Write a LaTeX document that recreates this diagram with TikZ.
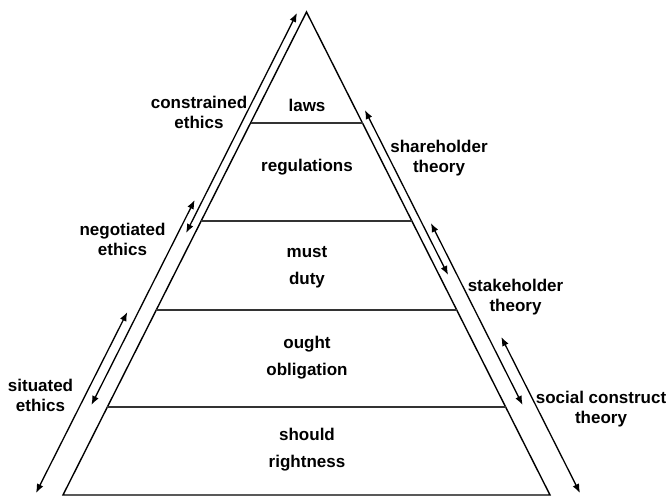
\documentclass[tikz,border=0pt]{standalone}
\usepackage{fontspec}
\setmainfont{Liberation Sans}
\usetikzlibrary{arrows.meta}
\begin{document}
\begin{tikzpicture}[x=1pt,y=-1pt,
  edge/.style={line width=1.4pt,black,line join=miter},
  tier/.style={line width=1.2pt,black!80},
  span/.style={line width=1.3pt,{Latex[length=9pt,width=7pt]}-{Latex[length=9pt,width=7pt]}},
  level/.style={font=\fontsize{17}{27}\selectfont\bfseries,align=center,inner sep=0pt,anchor=base},
  side/.style={font=\fontsize{17}{20}\selectfont\bfseries,align=center,inner sep=0pt,anchor=base}]
\useasboundingbox (0,0) rectangle (669,497);

% pyramid outline
\coordinate (apex) at (306.5,12);
\coordinate (bl) at (63,495);
\coordinate (br) at (550,495);
\draw[edge] (bl) -- (apex) -- (br) -- cycle;

% tier boundaries
\coordinate (t1l) at (250.5,123); \coordinate (t1r) at (362.5,123);
\coordinate (t2l) at (201.1,221); \coordinate (t2r) at (411.9,221);
\coordinate (t3l) at (156.3,310); \coordinate (t3r) at (456.7,310);
\coordinate (t4l) at (107.4,407); \coordinate (t4r) at (505.6,407);
\draw[tier] (t1l) -- (t1r);
\draw[tier] (t2l) -- (t2r);
\draw[tier] (t3l) -- (t3r);
\draw[tier] (t4l) -- (t4r);

% left ranges
\coordinate (ce1) at (297,13);    \coordinate (ce2) at (186.1,233);
\coordinate (ne1) at (194.7,200); \coordinate (ne2) at (91.4,405);
\coordinate (se1) at (127.3,312); \coordinate (se2) at (36,493);
\draw[span] (ce1) -- (ce2);
\draw[span] (ne1) -- (ne2);
\draw[span] (se1) -- (se2);

% right ranges
\coordinate (sh1) at (364.9,110); \coordinate (sh2) at (448.1,275);
\coordinate (st1) at (430.9,223); \coordinate (st2) at (522.6,405);
\coordinate (sc1) at (501.3,337); \coordinate (sc2) at (580,493);
\draw[span] (sh1) -- (sh2);
\draw[span] (st1) -- (st2);
\draw[span] (sc1) -- (sc2);

% tier labels (base = baseline of the last line)
\node[level] (laws) at (307,112) {laws};
\node[level] (regs) at (307,172) {regulations};
\node[level] (must) at (307,284) {must\\duty};
\node[level] (ought) at (307,375) {ought\\obligation};
\node[level] (should) at (307,467) {should\\rightness};

% side labels
\node[side] (lce) at (199,129) {constrained\\ethics};
\node[side] (lne) at (122.5,255) {negotiated\\ethics};
\node[side] (lse) at (40.5,411) {situated\\ethics};
\node[side] (lsh) at (439,173) {shareholder\\theory};
\node[side] (lst) at (515.5,311) {stakeholder\\theory};
\node[side] (lsc) at (601,423) {social construct\\theory};
\end{tikzpicture}
\end{document}
